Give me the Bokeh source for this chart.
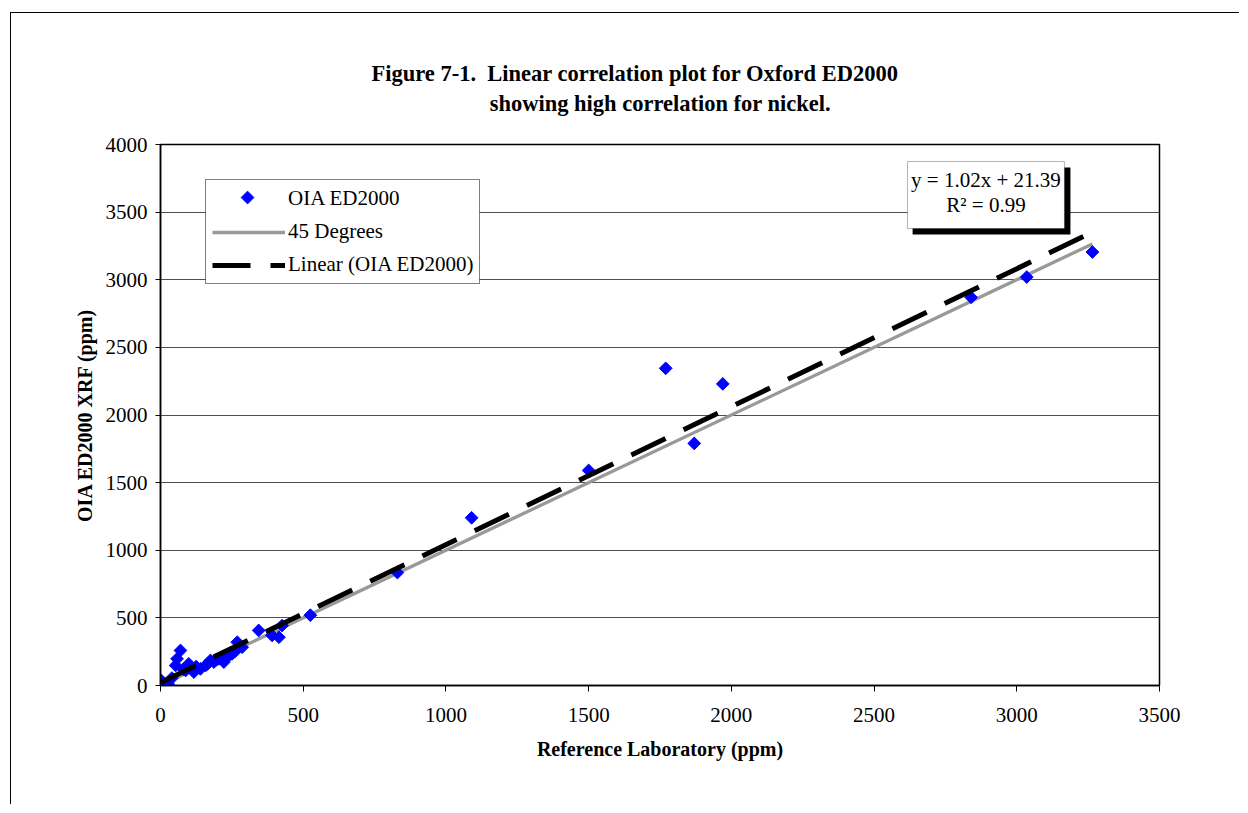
from bokeh.plotting import figure
from bokeh.models import (Range1d, Label, BoxAnnotation, Legend, LegendItem,
                          FixedTicker, Title)
from bokeh.embed import file_html
from bokeh.resources import INLINE
import numpy as np

# ---- data ----
ref_lab = [3, 27, 70, 58, 53, 99, 88, 117, 140, 158, 175, 187, 204, 222, 234,
           251, 269, 286, 40, 80, 125, 165, 195, 260,
           344, 391, 415, 426, 525, 830, 1090, 1500, 1770, 1870, 1970,
           2840, 3035, 3265]
oia_ed2000 = [37, 10, 259, 197, 148, 160, 111, 99, 123, 148, 185, 173, 197, 173, 209,
              234, 320, 283, 55, 120, 140, 160, 190, 250,
              407, 370, 357, 443, 520, 835, 1240, 1590, 2345, 1790, 2230,
              2870, 3020, 3205]
slope = 1.02
intercept = 21.39
r_squared = 0.99
x_ticks = [0, 500, 1000, 1500, 2000, 2500, 3000, 3500]
y_ticks = [0, 500, 1000, 1500, 2000, 2500, 3000, 3500, 4000]

title_1 = "Figure 7-1.\u00a0 Linear correlation plot for Oxford ED2000"
title_2 = "showing high correlation for nickel."
x_title = "Reference Laboratory (ppm)"
y_title = "OIA ED2000 XRF (ppm)"
series_names = ["OIA ED2000", "45 Degrees", "Linear (OIA ED2000)"]

FONT = "Liberation Serif"

p = figure(width=1229, height=792, output_backend="svg", toolbar_location=None,
           x_range=Range1d(0, 3500), y_range=Range1d(0, 4000),
           min_border_left=149, min_border_right=81,
           min_border_top=131, min_border_bottom=120)
p.styles = {"margin-left": "10px", "margin-top": "12px",
            "border-left": "1px solid black", "border-top": "1px solid black"}

p.outline_line_color = "black"
p.outline_line_width = 1.5
p.xgrid.visible = False
p.ygrid.ticker = FixedTicker(ticks=y_ticks)
p.ygrid.grid_line_color = "#505050"
p.ygrid.grid_line_width = 1

p.xaxis.ticker = FixedTicker(ticks=x_ticks)
p.yaxis.ticker = FixedTicker(ticks=y_ticks)
for ax in (p.xaxis[0], p.yaxis[0]):
    ax.axis_line_color = "black"
    ax.axis_line_width = 1.5
    ax.major_tick_line_color = "black"
    ax.major_tick_in = 0
    ax.minor_tick_line_color = None
    ax.major_label_text_font = FONT
    ax.major_label_text_font_size = "21px"
    ax.major_label_text_color = "black"
    ax.axis_label_text_font = FONT
    ax.axis_label_text_font_style = "bold"
    ax.axis_label_text_font_size = "20px"
    ax.axis_label_text_color = "black"
p.xaxis.major_tick_out = 6
p.yaxis.major_tick_out = 5
p.xaxis.major_label_standoff = 16
p.yaxis.major_label_standoff = 8
p.xaxis.axis_label = x_title
p.yaxis.axis_label = y_title
p.xaxis.axis_label_standoff = 13
p.yaxis.axis_label_standoff = 7

# white legend backing (drawn beneath glyphs so the legend symbol can sit on it)
p.add_layout(BoxAnnotation(left=158, right=1118, top=3734, bottom=2980,
                           fill_color="white", fill_alpha=1, line_color=None,
                           level="underlay"))

# 45 degree line over the data range
xmin, xmax = min(ref_lab), max(ref_lab)
gray = p.line([xmin, xmax], [xmin, xmax], line_color="#999999", line_width=3.3)
sc = p.scatter(ref_lab, oia_ed2000, marker="square", angle=np.pi / 4, size=9,
               fill_color="#0000FF", line_color="#0000FF")
fx = np.array([xmin, xmax], dtype=float)
trend = p.line(fx, slope * fx + intercept, line_color="black", line_width=5,
               line_dash="38 20")

# legend symbol for the scatter series (legend glyphs are not rotated by Bokeh)
legend_stub = p.scatter([], [], marker="square", size=1, fill_alpha=0, line_alpha=0)
p.scatter([305], [3608], marker="square", angle=np.pi / 4, size=9,
          fill_color="#0000FF", line_color="#0000FF")

legend = Legend(items=[LegendItem(label=series_names[0], renderers=[legend_stub]),
                       LegendItem(label=series_names[1], renderers=[gray]),
                       LegendItem(label=series_names[2], renderers=[trend])],
                location=(45, 401), orientation="vertical",
                border_line_color="black", border_line_width=1,
                background_fill_alpha=0,
                label_text_font=FONT, label_text_font_size="21px",
                label_text_color="black",
                glyph_width=73, glyph_height=24, label_height=24,
                spacing=8, padding=6, margin=0, label_standoff=3)
p.add_layout(legend)

# equation box with shadow
p.add_layout(BoxAnnotation(left=2635, right=3188, top=3830, bottom=3335,
                           fill_color="black", fill_alpha=1, line_color=None))
p.add_layout(BoxAnnotation(left=2617, right=3167, top=3874, bottom=3379,
                           fill_color="white", fill_alpha=1,
                           line_color="black", line_width=1))
p.add_layout(Label(x=2892, y=3734, text=f"y = {slope:.2f}x + {intercept:.2f}",
                   text_align="center", text_baseline="middle",
                   text_font=FONT, text_font_size="21px", text_color="black"))
p.add_layout(Label(x=2892, y=3549, text=f"R\u00b2 = {r_squared:.2f}",
                   text_align="center", text_baseline="middle",
                   text_font=FONT, text_font_size="21px", text_color="black"))

# two-line title; second line indented with no-break spaces as in the original
indent = "\u00a0" * 21
p.add_layout(Title(text=title_1 + "\n" + indent + title_2, align="left",
                   offset=211, standoff=58, text_line_height=1.17,
                   text_font=FONT, text_font_style="bold", text_font_size="22.5px",
                   text_color="black"), "above")

open("out.html", "w").write(file_html(p, INLINE))
